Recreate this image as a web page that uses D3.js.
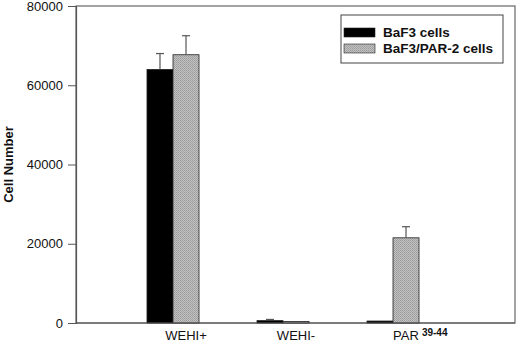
<!DOCTYPE html>
<html>
<head>
<meta charset="utf-8">
<script src="https://cdn.jsdelivr.net/npm/d3@7"></script>
<style>
  body { margin: 0; background: #fff; font-family: "Liberation Sans", Arial, sans-serif; }
  svg { display: block; }
  .tick text { font-size: 13px; fill: #111; }
</style>
</head>
<body>
<svg id="viz" width="520" height="345"></svg>
<script>
// data
const groups = ["WEHI+", "WEHI-", "PAR"];
const groupSup = ["", "", "39-44"];
const seriesNames = ["BaF3 cells", "BaF3/PAR-2 cells"];
const baf3Values = [64000, 600, 500];
const baf3Errors = [4000, 300, 0];
const par2Values = [67700, 400, 21500];
const par2Errors = [4800, 0, 2800];
const yTicks = [0, 20000, 40000, 60000, 80000];

const svg = d3.select("#viz");
const plot = { left: 76, right: 515, top: 6, bottom: 323 };

// dithered grey fill like the printed halftone
const defs = svg.append("defs");
const pat = defs.append("pattern")
  .attr("id", "dots").attr("width", 2).attr("height", 2)
  .attr("patternUnits", "userSpaceOnUse");
pat.append("rect").attr("width", 2).attr("height", 2).attr("fill", "#c2c2c2");
pat.append("rect").attr("width", 1).attr("height", 1).attr("fill", "#9a9a9a");
pat.append("rect").attr("x", 1).attr("y", 1).attr("width", 1).attr("height", 1).attr("fill", "#a4a4a4");

const fills = ["#000", "url(#dots)"];
const series = [
  { name: seriesNames[0], values: baf3Values, errors: baf3Errors },
  { name: seriesNames[1], values: par2Values, errors: par2Errors }
];

const y = d3.scaleLinear().domain([0, 80000]).range([plot.bottom, plot.top]);
const x0 = d3.scaleBand().domain(groups).range([118, 448])
  .paddingInner(0.527).paddingOuter(0.2635);
const x1 = d3.scaleBand().domain([0, 1]).range([0, x0.bandwidth()]);

// frame
svg.append("rect")
  .attr("x", plot.left).attr("y", plot.top)
  .attr("width", plot.right - plot.left).attr("height", plot.bottom - plot.top)
  .attr("fill", "none").attr("stroke", "#666").attr("stroke-width", 1.2);

// y axis
const yAxis = svg.append("g")
  .attr("transform", `translate(${plot.left},0)`)
  .call(d3.axisLeft(y).tickValues(yTicks).tickSize(8).tickPadding(5).tickFormat(d3.format("d")));
yAxis.select(".domain").attr("stroke", "#555").attr("stroke-width", 1.2);
yAxis.selectAll(".tick line").attr("stroke", "#555");

svg.append("text")
  .attr("transform", `translate(13,${(plot.top + plot.bottom) / 2}) rotate(-90)`)
  .attr("text-anchor", "middle")
  .attr("font-size", 13).attr("font-weight", "bold").attr("fill", "#111")
  .text("Cell Number");

// bars
series.forEach((s, si) => {
  const g = svg.append("g");
  g.selectAll("rect")
    .data(groups)
    .join("rect")
    .attr("x", d => x0(d) + x1(si))
    .attr("y", (d, i) => y(s.values[i]))
    .attr("width", x1.bandwidth())
    .attr("height", (d, i) => plot.bottom - y(s.values[i]))
    .attr("fill", fills[si])
    .attr("stroke", "#222")
    .attr("stroke-width", 0.8);

  // upper error bars only
  const eb = g.selectAll("g.err")
    .data(groups.map((d, i) => ({ g: d, v: s.values[i], e: s.errors[i] })).filter(d => d.e > 0))
    .join("g").attr("class", "err");
  const cx = d => x0(d.g) + x1(si) + x1.bandwidth() / 2;
  eb.append("line")
    .attr("x1", cx).attr("x2", cx)
    .attr("y1", d => y(d.v)).attr("y2", d => y(d.v + d.e))
    .attr("stroke", "#555").attr("stroke-width", 1.2);
  eb.append("line")
    .attr("x1", d => cx(d) - 4).attr("x2", d => cx(d) + 4)
    .attr("y1", d => y(d.v + d.e)).attr("y2", d => y(d.v + d.e))
    .attr("stroke", "#555").attr("stroke-width", 1.2);
});

// redraw baseline on top
svg.append("line")
  .attr("x1", plot.left).attr("x2", plot.right).attr("y1", plot.bottom).attr("y2", plot.bottom)
  .attr("stroke", "#555").attr("stroke-width", 1.2);

// category labels
groups.forEach((gname, i) => {
  const cx = x0(gname) + x0.bandwidth() / 2 + 13;
  const t = svg.append("text")
    .attr("x", cx).attr("y", 340)
    .attr("text-anchor", "middle")
    .attr("font-size", 13).attr("fill", "#111")
    .text(gname);
  if (groupSup[i]) {
    const w = t.node().getComputedTextLength();
    t.attr("text-anchor", "start").attr("x", cx - w / 2);
    svg.append("text")
      .attr("x", cx + w / 2 + 3).attr("y", 336)
      .attr("font-size", 10).attr("font-weight", "bold").attr("fill", "#111")
      .text(groupSup[i]);
  }
});

// legend
const lg = svg.append("g");
lg.append("rect")
  .attr("x", 341).attr("y", 15).attr("width", 162).attr("height", 48)
  .attr("fill", "#fff").attr("stroke", "#444").attr("stroke-width", 1);
series.forEach((s, i) => {
  lg.append("rect")
    .attr("x", 344).attr("y", 28 + i * 16).attr("width", 31).attr("height", 9)
    .attr("fill", fills[i]).attr("stroke", "#222").attr("stroke-width", 0.6);
  lg.append("text")
    .attr("x", 383).attr("y", 37 + i * 16)
    .attr("font-size", 13.5).attr("font-weight", "bold").attr("fill", "#111")
    .text(s.name);
});
</script>
</body>
</html>
